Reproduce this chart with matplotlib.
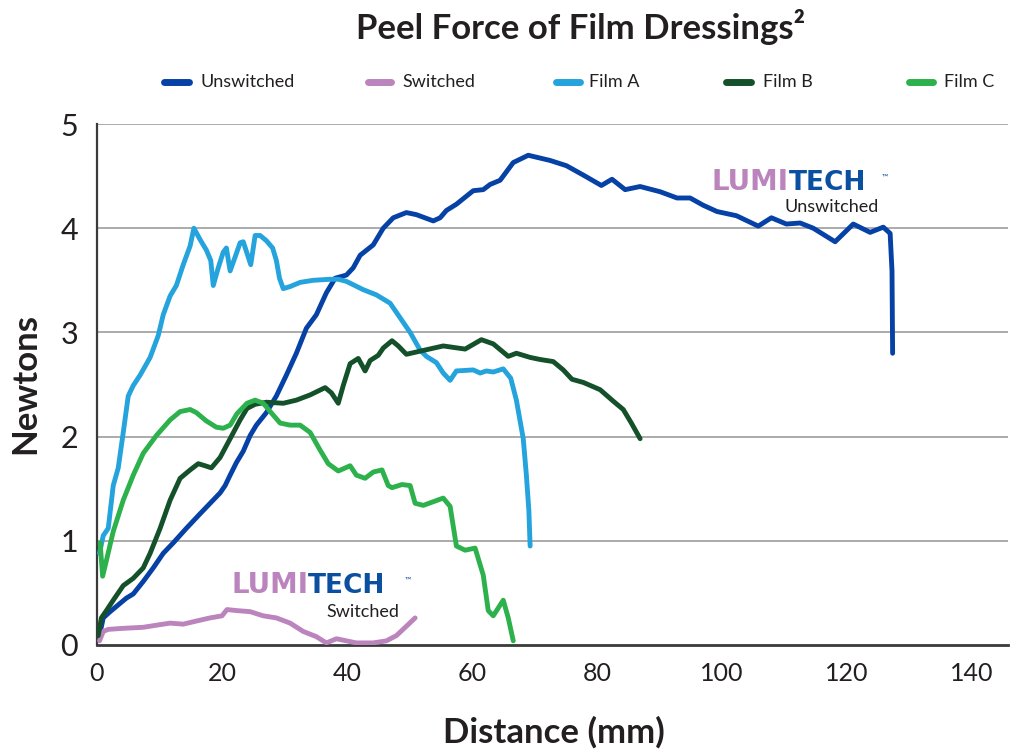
import matplotlib
matplotlib.use("Agg")
import matplotlib.pyplot as plt
from matplotlib.lines import Line2D

# ---------------- data ----------------
unsw_x = [0.4, 1.0, 2.1, 3.7, 4.7, 5.8, 7.4, 9.0, 10.6, 12.2, 14.3, 16.5, 18.1, 19.7, 20.5, 21.3,
          22.3, 23.4, 24.5, 25.5, 27.1, 28.7, 30.3, 31.9, 33.5, 35.1, 36.7, 38.1, 39.9, 41.0, 42.1,
          44.2, 45.8, 47.4, 49.5, 51.1, 53.8, 54.9, 55.9, 57.5, 60.2, 61.8, 62.9, 64.5, 66.6, 69.0,
          70.4, 72.5, 75.1, 77.8, 80.7, 82.4, 84.5, 86.9, 90.1, 92.8, 94.9, 97.0, 99.2, 102.3,
          105.8, 107.9, 110.3, 112.5, 114.6, 118.1, 121.0, 123.7, 125.8, 126.9, 127.2, 127.3]
unsw_y = [0.09, 0.26, 0.32, 0.40, 0.45, 0.49, 0.61, 0.74, 0.88, 0.98, 1.12, 1.26, 1.36, 1.46, 1.53, 1.63,
          1.75, 1.86, 2.01, 2.11, 2.23, 2.39, 2.59, 2.80, 3.04, 3.17, 3.38, 3.52, 3.55, 3.62, 3.74,
          3.84, 4.00, 4.10, 4.15, 4.13, 4.07, 4.10, 4.17, 4.23, 4.36, 4.37, 4.42, 4.46, 4.63, 4.70,
          4.68, 4.65, 4.60, 4.51, 4.41, 4.47, 4.37, 4.40, 4.35, 4.29, 4.29, 4.22, 4.16, 4.12,
          4.02, 4.10, 4.04, 4.05, 4.00, 3.87, 4.04, 3.96, 4.01, 3.95, 3.59, 2.80]

sw_x = [0.4, 1.0, 1.8, 4.2, 7.4, 9.5, 11.7, 13.8, 15.9, 18.1, 20.0, 20.8, 22.4, 24.5, 26.6, 28.7,
        30.9, 33.0, 35.1, 36.7, 38.3, 39.9, 41.5, 44.2, 46.3, 47.9, 49.5, 50.9]
sw_y = [0.04, 0.13, 0.15, 0.16, 0.17, 0.19, 0.21, 0.20, 0.23, 0.26, 0.28, 0.34, 0.33, 0.32, 0.28, 0.26,
        0.21, 0.13, 0.08, 0.02, 0.06, 0.04, 0.02, 0.02, 0.04, 0.09, 0.18, 0.26]

filmA_x = [0.4, 1.0, 1.8, 2.6, 3.4, 4.2, 5.0, 5.8, 6.9, 8.5, 9.8, 10.6, 11.7, 12.7, 13.8, 14.9, 15.5,
           16.5, 17.5, 18.2, 18.6, 19.4, 20.2, 20.7, 21.3, 21.9, 22.9, 23.4, 24.0, 24.6, 25.3, 26.1,
           27.1, 28.1, 28.7, 29.2, 29.8, 30.9, 32.5, 34.6, 37.3, 38.6, 39.9, 42.6, 44.7, 46.9, 48.5,
           50.1, 51.7, 52.7, 54.3, 55.4, 56.5, 57.5, 60.2, 61.3, 62.3, 63.4, 65.0, 66.2, 67.1, 68.2,
           68.7, 69.1, 69.3]
filmA_y = [0.88, 1.05, 1.12, 1.53, 1.70, 2.04, 2.39, 2.49, 2.59, 2.76, 2.97, 3.17, 3.35, 3.45, 3.65, 3.83, 4.00,
           3.89, 3.79, 3.69, 3.45, 3.62, 3.77, 3.81, 3.59, 3.69, 3.86, 3.87, 3.76, 3.65, 3.93, 3.93,
           3.88, 3.81, 3.69, 3.52, 3.42, 3.44, 3.48, 3.50, 3.51, 3.51, 3.49, 3.41, 3.36, 3.28, 3.14,
           3.00, 2.83, 2.77, 2.71, 2.61, 2.54, 2.63, 2.64, 2.61, 2.63, 2.62, 2.65, 2.56, 2.35, 1.98,
           1.63, 1.29, 0.95]

filmB_x = [0.2, 0.7, 1.5, 2.6, 4.2, 5.8, 7.4, 8.5, 10.1, 11.7, 13.3, 14.9, 16.2, 17.3, 18.3, 19.7,
           21.3, 22.9, 24.0, 25.3, 27.1, 29.8, 31.9, 34.1, 36.5, 37.5, 38.6, 39.4, 40.5, 41.8, 42.9,
           43.7, 45.0, 45.8, 47.2, 48.2, 49.5, 51.7, 55.4, 58.9, 61.5, 63.4, 65.8, 67.1, 69.3, 70.9,
           73.0, 74.6, 76.0, 77.8, 80.5, 82.6, 84.2, 85.5, 86.9]
filmB_y = [0.09, 0.26, 0.33, 0.43, 0.57, 0.64, 0.74, 0.88, 1.12, 1.39, 1.60, 1.68, 1.74, 1.72, 1.70, 1.80,
           1.98, 2.16, 2.27, 2.31, 2.33, 2.32, 2.35, 2.40, 2.47, 2.42, 2.32, 2.49, 2.70, 2.75, 2.63,
           2.73, 2.78, 2.85, 2.92, 2.87, 2.79, 2.82, 2.87, 2.84, 2.93, 2.89, 2.77, 2.80, 2.76, 2.74,
           2.72, 2.64, 2.55, 2.52, 2.45, 2.34, 2.26, 2.13, 1.98]

filmC_x = [0.5, 0.9, 1.5, 2.6, 4.2, 5.8, 7.4, 9.5, 11.7, 13.3, 14.9, 15.9, 17.5, 19.1, 20.2, 21.3,
           22.4, 24.0, 25.3, 26.6, 28.0, 29.3, 30.9, 32.5, 34.1, 35.7, 37.0, 38.6, 40.5, 41.5, 42.9,
           44.2, 45.6, 46.6, 47.2, 48.8, 50.1, 50.9, 52.2, 55.4, 56.5, 57.5, 58.9, 60.5, 61.8, 62.6,
           63.4, 65.0, 65.8, 66.6]
filmC_y = [0.98, 0.66, 0.81, 1.09, 1.39, 1.63, 1.84, 2.01, 2.16, 2.24, 2.26, 2.23, 2.15, 2.09, 2.08, 2.11,
           2.22, 2.32, 2.35, 2.32, 2.22, 2.13, 2.11, 2.11, 2.04, 1.87, 1.74, 1.67, 1.72, 1.63, 1.60,
           1.66, 1.68, 1.53, 1.51, 1.54, 1.53, 1.36, 1.34, 1.41, 1.33, 0.95, 0.91, 0.93, 0.67, 0.33,
           0.28, 0.43, 0.26, 0.04]

series_names = ["Unswitched", "Switched", "Film A", "Film B", "Film C"]
series_colors = ["#0641a6", "#bb84bd", "#25a3dc", "#14512a", "#2cb14c"]

x_ticks = [0, 20, 40, 60, 80, 100, 120, 140]
y_ticks = [0, 1, 2, 3, 4, 5]

TEXT = "#231f20"
plt.rcParams['font.family'] = ['Lato', 'DejaVu Sans']

# ---------------- figure ----------------
W, H = 1011, 752
fig = plt.figure(figsize=(W / 100, H / 100), dpi=100)
ax = fig.add_axes([97 / W, 1 - 645 / H, (1008 - 97) / W, (645 - 124) / H])

ax.set_xlim(0, (1008 - 97) / 6.25)
ax.set_ylim(0, 5)

for yt in y_ticks[1:]:
    ax.axhline(yt, color="#a5a5a5", lw=1.3, zorder=1)

data = [(unsw_x, unsw_y), (sw_x, sw_y), (filmA_x, filmA_y), (filmB_x, filmB_y), (filmC_x, filmC_y)]
order = [1, 4, 3, 2, 0]
for i in order:
    xs, ys = data[i]
    ax.plot(xs, ys, color=series_colors[i], lw=3.5, solid_joinstyle="round",
            solid_capstyle="round", zorder=3 + i)

for s in ["top", "right"]:
    ax.spines[s].set_visible(False)
ax.spines["left"].set_color("#3a3a3a")
ax.spines["left"].set_linewidth(1.6)
ax.spines["bottom"].set_color("#3a3a3a")
ax.spines["bottom"].set_linewidth(2.0)

ax.set_xticks(x_ticks)
ax.set_yticks(y_ticks)
ax.tick_params(axis="both", length=0, colors=TEXT)
ax.tick_params(axis="x", labelsize=18, pad=12)
ax.tick_params(axis="y", labelsize=22, pad=20)
for lab in ax.get_yticklabels():
    lab.set_horizontalalignment("center")

fig.text(554 / W, 1 - 732 / H, "Distance (mm)", fontsize=25, fontweight="bold", color=TEXT,
         ha="center", va="center")
fig.text(25 / W, 1 - 384 / H, "Newtons", fontsize=25, fontweight="bold", color=TEXT,
         ha="center", va="center", rotation=90)

fig.text(581 / W, 1 - 27 / H, "Peel Force of Film Dressings²", fontsize=25, fontweight="bold",
         color=TEXT, ha="center", va="center")

# legend (manual layout)
leg_y = 1 - 82 / H
handles = [(164, 189, 200), (368, 391, 402), (556, 580, 589), (726, 751, 763), (909, 933, 944)]
for (x1, x2, xt), name, col in zip(handles, series_names, series_colors):
    fig.add_artist(Line2D([x1 / W, x2 / W], [leg_y, leg_y], transform=fig.transFigure,
                          color=col, lw=5, solid_capstyle="round"))
    fig.text(xt / W, leg_y, name, fontsize=13, color=TEXT, ha="left", va="center")

# logos
PURPLE = "#bb84bd"
NAVY = "#0b4fa0"
def logo(x_join, x_tm, y_base, label, x_lab, y_lab):
    ax.text(x_join, y_base, "LUMI", color=PURPLE, fontsize=20, fontweight="heavy",
            family=["DejaVu Sans"], ha="right", va="baseline", zorder=10)
    ax.text(x_join, y_base, "TECH", color=NAVY, fontsize=19, fontweight="heavy",
            family=["DejaVu Sans"], ha="left", va="baseline", zorder=10)
    ax.text(x_tm, y_base + 0.1, "™", color=NAVY, fontsize=6, ha="left", va="baseline", zorder=10)
    ax.text(x_lab, y_lab, label, color=TEXT, fontsize=13, ha="right", va="center", zorder=10)

logo(110.7, 125.6, 4.37, "Unswitched", 125.0, 4.20)
logo(33.8, 49.2, 0.50, "Switched", 48.4, 0.32)

fig.savefig("out.png", dpi=100)
